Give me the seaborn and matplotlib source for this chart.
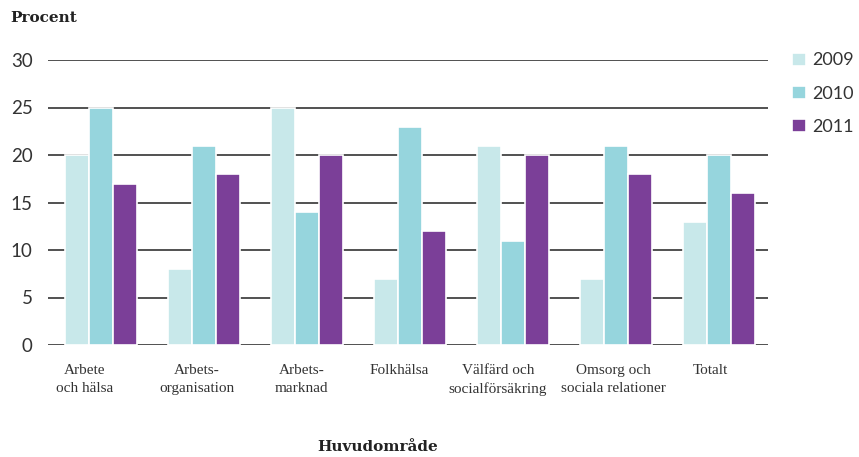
import pandas as pd
import matplotlib
matplotlib.use("Agg")
import matplotlib.pyplot as plt
import matplotlib.transforms as mtransforms
import seaborn as sns

categories = ["Arbete\noch hälsa", "Arbets-\norganisation", "Arbets-\nmarknad",
              "Folkhälsa", "Välfärd och\nsocialförsäkring",
              "Omsorg och\nsociala relationer", "Totalt"]
years = ["2009", "2010", "2011"]
v2009 = [20, 8, 25, 7, 21, 7, 13]
v2010 = [25, 21, 14, 23, 11, 21, 20]
v2011 = [17, 18, 20, 12, 20, 18, 16]
colors = ["#c8e8ea", "#96d5dd", "#7b3f98"]

rows = []
for yr, vals in zip(years, [v2009, v2010, v2011]):
    for c, v in zip(categories, vals):
        rows.append({"omrade": c, "ar": yr, "procent": v})
df = pd.DataFrame(rows)

sns.set_style("white")
plt.rcParams["font.family"] = ["Lato", "DejaVu Sans"]

fig = plt.figure(figsize=(8.59, 4.57), dpi=100)
ax = fig.add_axes([48 / 859, 1 - 345 / 457, (768 - 48) / 859, (345 - 60) / 457])

ax.set_axisbelow(True)
ax.yaxis.grid(True, color="#222222", linewidth=1.1)
sns.barplot(data=df, x="omrade", y="procent", hue="ar", hue_order=years,
            palette=colors, width=0.7, edgecolor="white", linewidth=1.2,
            saturation=1, ax=ax, legend=True)

ax.set_ylim(0, 30)
ax.set_yticks(range(0, 31, 5))
ax.set_xlim(-0.515, 6.48)
for s in ax.spines.values():
    s.set_visible(False)
ax.tick_params(axis="y", length=0, pad=11, labelsize=13.5, labelcolor="#333333")
ax.tick_params(axis="x", length=0, pad=14)
ax.set_xlabel("")
ax.set_ylabel("")
ax.set_xticks(range(len(categories)))
ax.set_xticklabels(categories, family="Liberation Serif", fontsize=11,
                   color="#333333", linespacing=1.45)
# labels in the original sit a bit left of the bar groups
shifts = [-16, -7, -5, -11, -15, -2, -8]
for lab, dx in zip(ax.get_xticklabels(), shifts):
    off = mtransforms.ScaledTranslation(dx / 100, 0, fig.dpi_scale_trans)
    lab.set_transform(lab.get_transform() + off)

handles, labels = ax.get_legend_handles_labels()
ax.legend(handles, labels, loc="upper left", bbox_to_anchor=(778 / 859, 1 - 38 / 457),
          bbox_transform=fig.transFigure, frameon=False, fontsize=13,
          handlelength=0.75, handleheight=0.75, handletextpad=0.35,
          labelspacing=0.95, labelcolor="#333333", borderpad=0.3)

fig.text(10 / 859, 1 - 18 / 457, "Procent", family="DejaVu Serif", weight="bold",
         fontsize=11, color="#222222", va="center", ha="left")
fig.text(378 / 859, 1 - 447 / 457, "Huvudområde", family="DejaVu Serif", weight="bold",
         fontsize=11, color="#222222", va="center", ha="center")

fig.savefig("out.png", dpi=100)
